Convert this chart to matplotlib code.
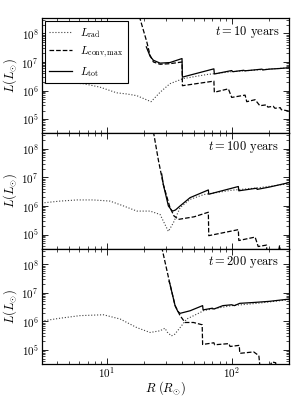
import numpy as np
from matplotlib import pyplot as plt

plt.rcParams['font.family'] = 'serif'
plt.rcParams['font.serif'] = ['cmr10']
plt.rcParams['mathtext.fontset'] = 'cm'
plt.rcParams['axes.formatter.use_mathtext'] = True
plt.rcParams['axes.unicode_minus'] = False

# values: radius in R_sun, luminosity as log10(L/L_sun)
times = [10, 100, 200]

# t = 10 years
R_rad1 = [3.0, 3.1, 4.8, 6.5, 8.8, 12.0, 14.5, 17.4, 22.6, 26.7, 32, 41, 63, 100, 158, 290]
L_rad1 = [6.25, 6.26, 6.27, 6.24, 6.12, 5.92, 5.88, 5.82, 5.61, 5.94, 6.24, 6.42, 6.56, 6.66, 6.72, 6.80]
R_conv1 = [18.2, 20.9, 22.2, 23.6, 26.7, 32, 40.0, 40.3, 72.0, 72.6, 94, 100, 128, 132, 154, 168,
           190, 195, 215, 222, 245, 250, 290]
L_conv1 = [8.6, 7.70, 7.23, 7.0, 6.92, 6.94, 7.0, 6.17, 6.33, 5.94, 6.06, 5.76, 5.84, 5.61, 5.68, 5.47,
           5.50, 5.42, 5.45, 5.38, 5.40, 5.33, 5.28]
R_tot1 = [20.7, 22.2, 23.6, 26.7, 32, 40.0, 40.3, 72.0, 72.6, 100, 102, 125, 127, 150, 175, 177, 200, 240, 290]
L_tot1 = [7.53, 7.2, 7.06, 6.96, 6.98, 7.12, 6.47, 6.76, 6.58, 6.70, 6.66, 6.71, 6.69, 6.72, 6.75, 6.72,
          6.75, 6.77, 6.80]

# t = 100 years
R_rad2 = [3.0, 3.11, 4.23, 5.75, 7.8, 10.6, 13.6, 17.4, 22.2, 26.7, 31.1, 34.1, 38.6, 46.4, 60, 100, 160, 290]
L_rad2 = [6.10, 6.11, 6.17, 6.21, 6.21, 6.17, 6.0, 5.82, 5.82, 5.70, 5.11, 5.41, 5.94, 6.23, 6.40, 6.55,
          6.63, 6.78]
R_conv2 = [23.6, 25.9, 28.3, 32, 34.5, 37.5, 50, 65, 65.5, 113, 114, 154, 163, 190, 192, 238, 242, 246, 290]
L_conv2 = [8.6, 7.59, 6.76, 5.95, 5.65, 5.53, 5.62, 5.78, 4.96, 5.17, 4.79, 4.91, 4.58, 4.63, 4.3, 4.45,
           4.62, 4.3, 4.2]
R_tot2 = [27.5, 28.3, 31.1, 33.0, 33.7, 35.5, 38.6, 46.4, 65, 65.5, 113, 114, 158, 160, 200, 290]
L_tot2 = [7.12, 6.76, 6.0, 5.85, 5.82, 5.86, 6.0, 6.29, 6.56, 6.41, 6.68, 6.53, 6.62, 6.58, 6.66, 6.82]

# t = 200 years
R_rad3 = [3.0, 3.11, 4.23, 6.1, 9.4, 12.8, 17.4, 22.2, 26.7, 29.2, 30.5, 32.9, 35, 38.6, 43.6, 55.9, 60,
          100, 160, 290]
L_rad3 = [6.00, 6.02, 6.11, 6.20, 6.23, 6.08, 5.78, 5.61, 5.67, 5.76, 5.62, 5.49, 5.55, 5.78, 6.08, 6.31,
          6.38, 6.55, 6.63, 6.76]
R_conv3 = [27.5, 32, 35.2, 38.6, 42.3, 49.4, 58, 58.5, 72, 73, 95, 97, 115, 116, 150, 165, 168, 200, 210,
           225, 228, 290]
L_conv3 = [8.6, 7.31, 6.55, 6.20, 5.96, 5.96, 5.88, 5.19, 5.25, 5.18, 5.22, 5.12, 5.16, 4.88, 4.93, 4.80,
           4.45, 4.40, 4.58, 4.55, 4.3, 4.2]
R_tot3 = [31.5, 32, 35.2, 37, 38.6, 46.4, 58.5, 59, 70, 72, 85, 100, 105, 116, 150, 200, 290]
L_tot3 = [7.4, 7.31, 6.55, 6.35, 6.28, 6.37, 6.55, 6.40, 6.46, 6.43, 6.55, 6.58, 6.55, 6.63, 6.66, 6.70, 6.78]

panels = [(R_rad1, L_rad1, R_conv1, L_conv1, R_tot1, L_tot1),
          (R_rad2, L_rad2, R_conv2, L_conv2, R_tot2, L_tot2),
          (R_rad3, L_rad3, R_conv3, L_conv3, R_tot3, L_tot3)]

fig, axs = plt.subplots(3, 1, sharex=True, figsize=(2.99, 3.97), dpi=100)
fig.subplots_adjust(left=0.139, right=0.968, top=0.955, bottom=0.083, hspace=0)

for ax, t, (rr, lr, rc, lc, rt, lt) in zip(axs, times, panels):
  ax.plot(rr, 10**np.array(lr), ':', color='0.25', lw=0.8, label=r'$L_{\rm rad}$')
  ax.plot(rc, 10**np.array(lc), '--', color='k', lw=0.9, label=r'$L_{\rm conv,max}$')
  ax.plot(rt, 10**np.array(lt), '-', color='k', lw=0.9, label=r'$L_{\rm tot}$')
  ax.set_xscale('log')
  ax.set_yscale('log')
  ax.set_xlim(3, 290)
  ax.set_ylim(3.2e4, 3.5e8)
  ax.set_yticks([1e5, 1e6, 1e7, 1e8])
  ax.tick_params(which='both', direction='in', top=True, right=True, labelsize=8)
  ax.tick_params(axis='y', pad=2)
  ax.tick_params(axis='x', pad=1)
  ax.tick_params(which='major', length=4, width=0.6)
  ax.tick_params(which='minor', length=2, width=0.5)
  for s in ax.spines.values():
    s.set_linewidth(0.9)
  ax.set_ylabel(r'$L (L_{\odot})$', fontsize=9, labelpad=2)
  ax.text(0.96, 0.95, r'$t = %d$ years' % t, transform=ax.transAxes, ha='right', va='top', fontsize=9)

leg = axs[0].legend(loc='upper left', fontsize=8, fancybox=False, framealpha=1, edgecolor='k',
                    borderaxespad=0.3, handlelength=2.0, labelspacing=0.45)
leg.get_frame().set_linewidth(0.8)

axs[2].set_xlabel(r'$R\ (R_{\odot})$', fontsize=9, labelpad=-1)

plt.savefig('out.png', dpi=100)
